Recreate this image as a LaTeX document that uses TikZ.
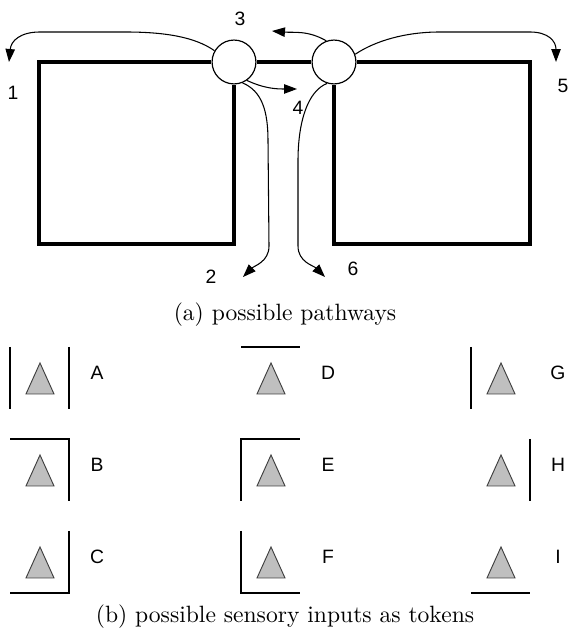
\documentclass[tikz,border=0pt]{standalone}
\usepackage{fontspec}
\usepackage{tikz}
\usetikzlibrary{arrows.meta}
\usetikzlibrary{positioning}
\newfontfamily\labelfont{Liberation Sans}

\tikzset{
    wall/.style={line width=1.8pt},
    junction/.style={draw, circle, fill=white, line width=0.5pt, inner sep=0pt, minimum size=18.6pt},
    flow/.style={line width=0.45pt, -{Triangle[length=5.5pt,width=4pt]}},
    bar/.style={line width=1pt},
    tri/.style={draw=black!75, fill=black!25, line width=0.4pt},
    lbl/.style={font=\labelfont\fontsize{8.2}{9}\selectfont, inner sep=0pt},
    caption/.style={inner sep=0pt}
}

\begin{document}
\begin{tikzpicture}[x=0.424pt, y=0.424pt]
            \useasboundingbox (0,0) rectangle (570,631);

            % Junctions and walls
            \node[junction] (j1) at (234,569) {};
            \node[junction] (j2) at (334,569) {};
            \draw[wall] (j1.west) -- (39,569) -- (39,387) -- (j1.south |- 0,387) -- (j1.south);
            \draw[wall] (j1.east) -- (j2.west);
            \draw[wall] (j2.east) -- (530,569) -- (530,387) -- (j2.south |- 0,387) -- (j2.south);

            % Pathway ends
            \coordinate (e1) at (9,569);
            \coordinate (e2) at (243,354);
            \coordinate (e3) at (272,600);
            \coordinate (e4) at (297,542);
            \coordinate (e5) at (556,569);
            \coordinate (e6) at (325,354);

            \draw[flow] (j1.150) .. controls (195,594) and (165,599) .. (125,599) -- (40,599) .. controls (20,599) and (11,590) .. (e1);
            \draw[flow] (j1.-68) .. controls (262,540) and (268,520) .. (268,490) -- (269,385) to[out=-90,in=45] (e2);
            \draw[flow] (j2.110) to[out=150,in=-5] (e3);
            \draw[flow] (j1.-55) to[out=-25,in=180] (e4);
            \draw[flow] (j2.20) .. controls (375,590) and (405,599) .. (440,599) -- (530,599) .. controls (548,599) and (556,590) .. (e5);
            \draw[flow] (j2.-108) .. controls (308,540) and (298,510) .. (298,470) -- (298,385) to[out=-90,in=135] (e6);

            \node[lbl] (p1) at (13,538) {1};
            \node[lbl] (p2) at (211,354) {2};
            \node[lbl] (p3) at (240,612) {3};
            \node[lbl] (p4) at (298,523) {4};
            \node[lbl] (p5) at (563,545) {5};
            \node[lbl] (p6) at (353,362) {6};

            \node[caption] (capa) at (285,316) {(a) possible pathways};

            % Tokens
            \foreach \x/\y/\t in {10/284/A, 10/192/B, 10/100/C, 241/284/D, 241/192/E, 241/100/F, 471/284/G, 471/192/H, 471/100/I} {
                \coordinate (\t-nw) at (\x,\y);
                \coordinate (\t-ne) at (\x+59,\y);
                \coordinate (\t-sw) at (\x,\y-62);
                \coordinate (\t-se) at (\x+59,\y-62);
                \draw[tri] (\x+16,\y-47) -- (\x+44,\y-47) -- (\x+30,\y-16) -- cycle;
                \node[lbl] (tok-\t) at (\x+87,\y-26) {\t};
            }

            \draw[bar] (A-nw) -- (A-sw);
            \draw[bar] (A-ne) -- (A-se);
            \draw[bar] (B-nw) -- (B-ne) -- (B-se);
            \draw[bar] (C-ne) -- (C-se) -- (C-sw);
            \draw[bar] (D-nw) -- (D-ne);
            \draw[bar] (E-sw) -- (E-nw) -- (E-ne);
            \draw[bar] (F-nw) -- (F-sw) -- (F-se);
            \draw[bar] (G-nw) -- (G-sw);
            \draw[bar] (H-ne) -- (H-se);
            \draw[bar] (I-sw) -- (I-se);

            \node[caption] (capb) at (285,14) {(b) possible sensory inputs as tokens};
        \end{tikzpicture}
\end{document}
